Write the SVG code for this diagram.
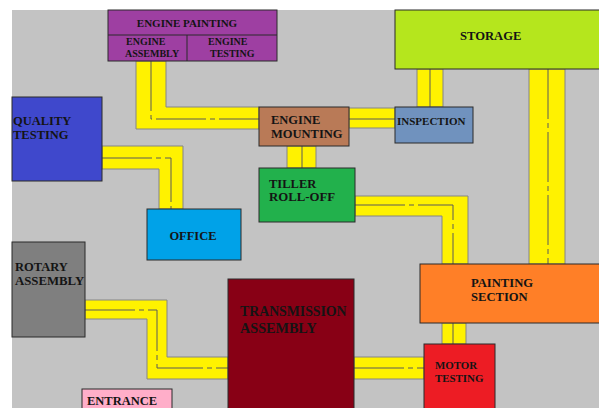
<svg xmlns="http://www.w3.org/2000/svg" width="599" height="408" viewBox="0 0 599 408">
<style>
.n{stroke:#2b2b2b;stroke-width:1}
.c{fill:#fff200;stroke:#858585;stroke-width:1}
.cl{fill:none;stroke:#5a5a5a;stroke-width:1;stroke-dasharray:50 4 5 4}
text{font-family:"Liberation Serif","Times New Roman",serif;font-weight:bold;fill:#141414}
</style>
<rect x="0" y="0" width="599" height="408" fill="#ffffff"/>
<rect x="12" y="10" width="587" height="398" fill="#c3c3c3"/>
<g id="connectors">
<polygon class="c" points="136,61 166,61 166,107 259,107 259,129 136,129"/>
<polyline class="cl" points="151,61 151,119 259,119"/>
<rect class="c" x="349" y="108" width="46" height="20"/>
<line class="cl" x1="349" y1="119" x2="395" y2="119"/>
<rect class="c" x="417" y="69" width="26" height="38"/>
<line class="cl" x1="430" y1="69" x2="430" y2="107"/>
<rect class="c" x="529" y="69" width="36" height="195"/>
<line class="cl" x1="548" y1="69" x2="548" y2="264"/>
<rect class="c" x="287" y="146" width="29" height="22"/>
<line class="cl" x1="302" y1="146" x2="302" y2="168"/>
<polygon class="c" points="355,196 468,196 468,264 442,264 442,216 355,216"/>
<polyline class="cl" points="355,205 453,205 453,264"/>
<rect class="c" x="442" y="323" width="24" height="21"/>
<line class="cl" x1="453" y1="323" x2="453" y2="344"/>
<rect class="c" x="354" y="357" width="70" height="22"/>
<line class="cl" x1="354" y1="368" x2="424" y2="368"/>
<polygon class="c" points="85,300 167,300 167,357 228,357 228,379 147,379 147,319 85,319"/>
<polyline class="cl" points="85,310 157,310 157,368 228,368"/>
<polygon class="c" points="102,146 183,146 183,209 159,209 159,169 102,169"/>
<polyline class="cl" points="102,158 171,158 171,209"/>
</g>
<g id="engine-painting">
<rect class="n" x="108" y="10" width="169" height="51" fill="#9e3fa2"/>
<line class="n" x1="108" y1="35" x2="277" y2="35"/>
<line class="n" x1="187" y1="35" x2="187" y2="61"/>
<text x="187" y="27" font-size="11" text-anchor="middle">ENGINE PAINTING</text>
</g>
<g id="engine-assembly">
<text x="126" y="44.5" font-size="10">ENGINE</text>
<text x="125" y="57" font-size="10">ASSEMBLY</text>
</g>
<g id="engine-testing">
<text x="208" y="44.5" font-size="10">ENGINE</text>
<text x="210" y="57" font-size="10">TESTING</text>
</g>
<g id="storage">
<rect class="n" x="395" y="10" width="210" height="59" fill="#b5e61d"/>
<text x="460" y="39.5" font-size="12.6">STORAGE</text>
</g>
<g id="quality-testing">
<rect class="n" x="12" y="97" width="90" height="84" fill="#3f48cc"/>
<text x="13" y="125" font-size="12.5">QUALITY</text>
<text x="13" y="138.5" font-size="12.5">TESTING</text>
</g>
<g id="engine-mounting">
<rect class="n" x="259" y="107" width="90" height="39" fill="#b97a57"/>
<text x="271" y="123.5" font-size="12.5">ENGINE</text>
<text x="271" y="137.5" font-size="12.5">MOUNTING</text>
</g>
<g id="inspection">
<rect class="n" x="395" y="107" width="78" height="36" fill="#7092be"/>
<text x="397" y="124.5" font-size="11">INSPECTION</text>
</g>
<g id="tiller-roll-off">
<rect class="n" x="259" y="168" width="96" height="54" fill="#22b14c"/>
<text x="269" y="187.5" font-size="12.5">TILLER</text>
<text x="269" y="201" font-size="12.8">ROLL-OFF</text>
</g>
<g id="office">
<rect class="n" x="147" y="209" width="94" height="51" fill="#00a2e8"/>
<text x="193" y="239.5" font-size="12.5" text-anchor="middle">OFFICE</text>
</g>
<g id="rotary-assembly">
<rect class="n" x="12" y="242" width="73" height="95" fill="#7f7f7f"/>
<text x="15" y="271" font-size="12.5">ROTARY</text>
<text x="15" y="285" font-size="12.8">ASSEMBLY</text>
</g>
<g id="entrance">
<rect class="n" x="82" y="389" width="90" height="25" fill="#ffaec9"/>
<text x="87" y="404.5" font-size="12.5">ENTRANCE</text>
</g>
<g id="transmission-assembly">
<rect class="n" x="228" y="279" width="126" height="135" fill="#880015"/>
<text x="240" y="315.5" font-size="13.8">TRANSMISSION</text>
<text x="240" y="332.5" font-size="14.2">ASSEMBLY</text>
</g>
<g id="painting-section">
<rect class="n" x="420" y="264" width="185" height="59" fill="#ff7f27"/>
<text x="471" y="287" font-size="12.6">PAINTING</text>
<text x="471" y="301" font-size="12.6">SECTION</text>
</g>
<g id="motor-testing">
<rect class="n" x="424" y="344" width="71" height="70" fill="#ed1c24"/>
<text x="435" y="368.5" font-size="10.9">MOTOR</text>
<text x="435" y="381.5" font-size="10.9">TESTING</text>
</g>
</svg>
